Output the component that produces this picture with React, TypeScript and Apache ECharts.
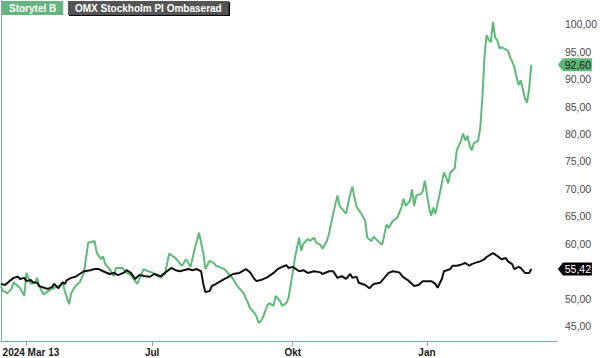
import React, { useEffect, useRef } from "react";
import * as echarts from "echarts";

// x axis: trading-day index (0 = 2024 Mar 13)
const xMaxDay = 261;
const xTickDays = [12, 71, 137, 200];
const xTickLabels = ["2024 Mar 13", "Jul", "Okt", "Jan"];
const yTickValues = [45, 50, 55, 60, 65, 70, 75, 80, 85, 90, 95, 100];

const storytelName = "Storytel B";
const storytelDays = [
  0, 1, 3, 5, 6, 9, 11, 12, 14, 16, 17, 18, 20, 23, 25, 28, 29, 30, 32, 33, 35, 37, 39, 41, 44, 45, 47, 48, 49, 51,
  53, 54, 57, 59, 61, 64, 67, 69, 71, 75, 77, 79, 82, 83, 85, 87, 89, 91, 93, 95, 96, 98, 100, 101, 105, 107, 109,
  111, 114, 115, 117, 119, 120, 121, 122, 123, 125, 126, 128, 129, 131, 132, 134, 135, 137, 138, 140, 141, 142, 144,
  145, 147, 148, 150, 151, 153, 154, 156, 158, 159, 160, 162, 164, 165, 166, 167, 169, 171, 172, 174, 175, 177, 178,
  179, 181, 182, 184, 186, 188, 189, 190, 192, 193, 194, 195, 197, 198, 199, 201, 202, 203, 204, 206, 208, 209, 210,
  211, 213, 214, 216, 217, 218, 219, 220, 221, 222, 224, 225, 226, 227, 228, 229, 230, 231, 232, 233, 234, 235, 236,
  238, 239, 241, 242, 243, 244, 246, 247, 248, 249,
];
const storytelValues = [
  52.3, 51.4, 51.0, 51.8, 53.0, 51.9, 50.5, 54.7, 52.7, 52.9, 53.8, 52.3, 50.8, 51.6, 52.0, 52.5, 52.9, 51.4, 49.0, 51.0,
  52.3, 53.0, 54.7, 60.2, 60.5, 58.4, 57.2, 57.7, 56.3, 55.4, 54.1, 55.6, 55.6, 54.7, 54.3, 52.7, 55.4, 55.0, 54.8, 53.8,
  54.5, 58.2, 57.4, 56.9, 56.0, 57.2, 55.8, 59.1, 62.0, 58.3, 55.4, 56.9, 56.5, 56.0, 55.4, 54.5, 53.6, 52.3, 51.0, 50.1,
  48.3, 47.4, 46.8, 45.6, 45.9, 46.6, 48.7, 49.2, 48.7, 50.5, 49.6, 48.7, 49.2, 50.1, 54.7, 57.4, 61.1, 58.7, 60.0, 60.9,
  60.5, 61.1, 60.2, 59.8, 59.1, 60.5, 61.8, 65.5, 68.8, 66.9, 66.4, 65.5, 69.1, 70.4, 68.4, 66.7, 65.6, 64.2, 61.1, 60.5,
  61.3, 60.5, 60.2, 59.8, 63.5, 62.9, 64.2, 64.7, 66.6, 68.2, 66.9, 67.8, 69.9, 66.9, 68.8, 69.1, 69.5, 71.5, 66.6, 65.1,
  66.6, 65.5, 69.1, 73.0, 72.1, 71.0, 73.0, 73.7, 77.0, 78.8, 80.1, 78.8, 79.7, 77.9, 77.0, 78.3, 78.8, 81.0, 86.5, 94.0,
  98.0, 97.2, 96.7, 100.4, 97.6, 97.1, 95.6, 95.8, 95.6, 95.2, 94.0, 92.3, 90.4, 88.9, 89.8, 86.5, 85.7, 88.3, 92.6,
];

const omxName = "OMX Stockholm PI Ombaserad";
const omxDays = [
  0, 2, 4, 6, 8, 9, 11, 12, 14, 15, 17, 18, 21, 22, 24, 25, 27, 29, 30, 31, 33, 35, 37, 39, 42, 44, 46, 48, 51, 53, 55,
  58, 59, 61, 63, 65, 68, 70, 72, 75, 77, 80, 82, 84, 88, 90, 92, 94, 95, 96, 98, 99, 101, 105, 106, 109, 112, 115,
  117, 119, 120, 122, 125, 128, 130, 132, 134, 135, 137, 140, 142, 144, 147, 150, 151, 154, 156, 158, 160, 162, 164,
  165, 167, 168, 171, 173, 175, 178, 180, 182, 184, 187, 189, 191, 194, 196, 198, 202, 204, 205, 207, 208, 211, 212,
  214, 216, 218, 220, 221, 224, 225, 227, 228, 231, 233, 235, 237, 238, 240, 241, 243, 244, 246, 248, 249,
];
const omxValues = [
  52.7, 52.5, 53.2, 53.8, 54.0, 53.6, 53.8, 53.2, 53.4, 53.0, 52.9, 52.3, 51.9, 51.8, 52.1, 52.7, 51.9, 53.0, 52.7, 53.4,
  53.8, 54.0, 54.5, 55.0, 55.2, 55.4, 55.4, 55.0, 54.5, 54.7, 54.3, 54.8, 55.2, 54.7, 53.6, 54.3, 54.1, 54.0, 54.5, 54.1,
  54.7, 55.6, 55.2, 55.0, 55.4, 55.2, 55.4, 55.0, 52.7, 51.2, 51.4, 52.3, 52.7, 53.6, 53.8, 54.5, 54.7, 55.4, 54.8, 53.6,
  53.2, 53.4, 53.9, 54.7, 55.4, 55.8, 56.1, 55.6, 55.8, 55.0, 55.2, 54.7, 55.0, 54.8, 54.5, 55.0, 55.0, 53.8, 54.1, 53.6,
  54.5, 53.8, 54.0, 52.9, 52.5, 51.9, 52.7, 52.9, 53.8, 54.7, 55.0, 54.8, 53.9, 53.4, 52.3, 52.5, 53.2, 53.2, 52.7, 52.0,
  53.6, 55.0, 55.4, 56.0, 56.0, 56.2, 56.5, 56.0, 56.3, 56.7, 56.8, 57.2, 57.6, 58.3, 57.8, 57.2, 57.4, 56.8, 56.3, 55.4,
  55.8, 55.6, 54.7, 54.7, 55.42,
];

const GREEN = "#5dba79";
const GREEN_TAG = "#5cb876";
const BLACK = "#111111";
const AXIS = "#7fa2b4";
const FONT = "Arial, 'Liberation Sans', sans-serif";

const fmt = (v: number) => v.toFixed(2).replace(".", ",");

export default function App() {
  const ref = useRef<HTMLDivElement>(null);

  useEffect(() => {
    if (!ref.current) return;
    const chart = echarts.init(ref.current, null, { renderer: "svg" });

    const storytelData = storytelDays.map((d, i) => [d, storytelValues[i]]);
    const omxData = omxDays.map((d, i) => [d, omxValues[i]]);
    const lastStorytel = storytelValues[storytelValues.length - 1];
    const lastOmx = omxValues[omxValues.length - 1];
    // axis labels hidden behind the last-value tags (as in the reference)
    const yLabelValues = yTickValues.filter(
      (v) => Math.abs(v - lastOmx) > 2 && Math.abs(v - lastStorytel) > 2
    );

    const tagPath = "path://M0,6.5 L6,0 L40,0 L40,13 L6,13 Z";

    const tag = (value: number, fill: string, textColor: string) => ({
      symbol: tagPath,
      symbolSize: [34, 13],
      symbolKeepAspect: false,
      silent: true,
      data: [
        {
          coord: [xMaxDay, value],
          value,
          symbolOffset: [18, 0],
          itemStyle: { color: fill },
          label: {
            show: true,
            position: "inside",
            offset: [3, 0],
            formatter: () => fmt(value),
            color: textColor,
            fontSize: 10.5,
            fontFamily: FONT,
          },
        },
      ],
    });

    chart.setOption({
      animation: false,
      backgroundColor: "#ffffff",
      grid: { left: 0, right: 34, top: 0, bottom: 17, containLabel: false },
      xAxis: {
        type: "value",
        min: 0,
        max: xMaxDay,
        splitLine: { show: false },
        axisLine: { show: true, lineStyle: { color: AXIS, width: 1 } },
        axisTick: {
          show: true,
          customValues: xTickDays,
          length: 5,
          lineStyle: { color: AXIS },
        },
        axisLabel: {
          show: true,
          customValues: xTickDays,
          margin: 6,
          formatter: (v: number) => {
            const i = xTickDays.indexOf(Math.round(v));
            if (i < 0) return "";
            return i === 0 ? "{first|" + xTickLabels[i] + "}" : xTickLabels[i];
          },
          color: "#1a1a1a",
          fontSize: 10,
          fontWeight: "bold",
          fontFamily: FONT,
          rich: {
            first: {
              padding: [0, 0, 0, 9],
              color: "#1a1a1a",
              fontSize: 10,
              fontWeight: "bold",
              fontFamily: FONT,
            },
          },
        },
      },
      yAxis: {
        type: "value",
        position: "right",
        min: 42.3,
        max: 104.4,
        splitLine: { show: false },
        axisLine: { show: true, lineStyle: { color: AXIS, width: 1 } },
        axisTick: { show: false },
        axisLabel: {
          show: true,
          customValues: yLabelValues,
          margin: 8,
          formatter: (v: number) => fmt(v),
          color: "#4a4a4a",
          fontSize: 10.5,
          fontFamily: FONT,
        },
      },
      graphic: [
        {
          type: "text",
          left: 2,
          top: 1,
          z: 100,
          style: {
            text: storytelName,
            fill: "#ffffff",
            font: "bold 10px Arial, 'Liberation Sans', sans-serif",
            backgroundColor: "#66b47f",
            padding: [2, 7, 1, 7],
            lineHeight: 11,
          },
        },
        {
          type: "rect",
          left: 69,
          top: 2,
          z: 99,
          shape: { width: 161, height: 14 },
          style: { fill: "#000000" },
        },
        {
          type: "text",
          left: 68,
          top: 1,
          z: 100,
          style: {
            text: omxName,
            fill: "#ffffff",
            font: "bold 10px Arial, 'Liberation Sans', sans-serif",
            backgroundColor: "#555555",
            padding: [2, 7, 1, 7],
            lineHeight: 11,
          },
        },
      ],
      series: [
        {
          name: storytelName,
          type: "line",
          data: storytelData,
          showSymbol: false,
          clip: false,
          lineStyle: { color: GREEN, width: 2 },
          itemStyle: { color: GREEN },
          markPoint: tag(lastStorytel, GREEN_TAG, "#1a1a1a"),
        },
        {
          name: omxName,
          type: "line",
          data: omxData,
          showSymbol: false,
          clip: false,
          lineStyle: { color: BLACK, width: 2 },
          itemStyle: { color: BLACK },
          markPoint: tag(lastOmx, "#000000", "#ffffff"),
        },
      ],
    });

    return () => chart.dispose();
  }, []);

  return (
    <div
      ref={ref}
      style={{ position: "fixed", left: 0, top: 0, width: 600, height: 358 }}
    />
  );
}
